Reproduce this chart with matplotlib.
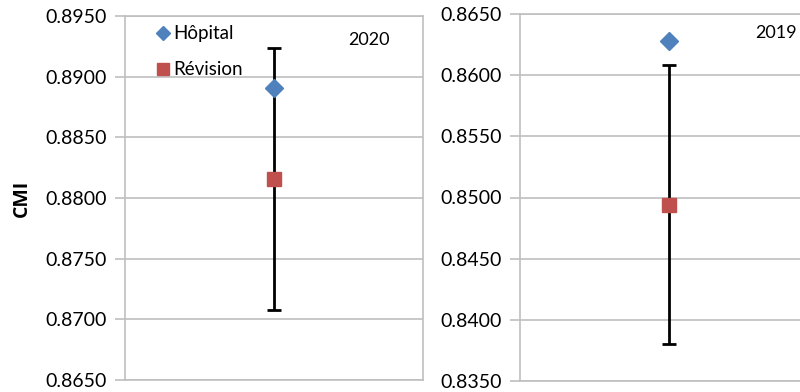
import matplotlib
matplotlib.use("Agg")
import matplotlib.pyplot as plt

plt.rcParams['font.family'] = ['Lato', 'DejaVu Sans']

years = ["2020", "2019"]
hopital = [0.8891, 0.8628]
revision = [0.88155, 0.8494]
err_half = [0.0108, 0.0114]
ylims = [(0.8650, 0.8950), (0.8350, 0.8650)]
yticks = [[0.8650, 0.8700, 0.8750, 0.8800, 0.8850, 0.8900, 0.8950],
          [0.8350, 0.8400, 0.8450, 0.8500, 0.8550, 0.8600, 0.8650]]

W, H = 800, 392
fig = plt.figure(figsize=(8, 3.92), dpi=100)
rects = [(125, 16, 423, 380), (520, 14, 818, 381)]
grid_c = '#BFBFBF'
blue = '#4F81BD'
red = '#C0504D'

for i, (l, t, r, b) in enumerate(rects):
    ax = fig.add_axes([l / W, (H - b) / H, (r - l) / W, (b - t) / H])
    ax.set_xlim(0, 2)
    ax.set_ylim(*ylims[i])
    ax.set_yticks(yticks[i])
    ax.set_yticklabels([f"{v:.4f}" for v in yticks[i]], fontsize=14)
    ax.set_xticks([])
    ax.grid(axis='y', color=grid_c, lw=1.2)
    ax.set_axisbelow(True)
    for s in ax.spines.values():
        s.set_color(grid_c)
        s.set_linewidth(1.2)
    ax.tick_params(axis='y', length=7, width=1.2, color=grid_c, pad=6)
    ax.errorbar([1], [revision[i]], yerr=[err_half[i]], fmt='none',
                ecolor='black', elinewidth=2, capsize=5, capthick=2, zorder=3)
    ax.plot([1], [hopital[i]], marker='D', ms=9, color=blue, ls='none',
            label='Hôpital', zorder=4)
    ax.plot([1], [revision[i]], marker='s', ms=10, color=red, ls='none',
            label='Révision', zorder=4)
    if i == 0:
        ax.text(0.82, 0.935, years[i], transform=ax.transAxes, fontsize=13,
                ha='center', va='center')
        ax.set_ylabel('CMI', fontsize=14, fontweight='bold', labelpad=10,
                      family='Open Sans')
        leg = ax.legend(loc='upper left', bbox_to_anchor=(0.07, 0.995),
                        frameon=False, fontsize=13.5, handletextpad=0.05,
                        labelspacing=1.0, handlelength=1.0, borderaxespad=0,
                        markerscale=0.8)
    else:
        fig.text(797 / W, 1 - 33 / H, years[i], fontsize=13,
                 ha='right', va='center')

fig.savefig('out.png', dpi=100)
